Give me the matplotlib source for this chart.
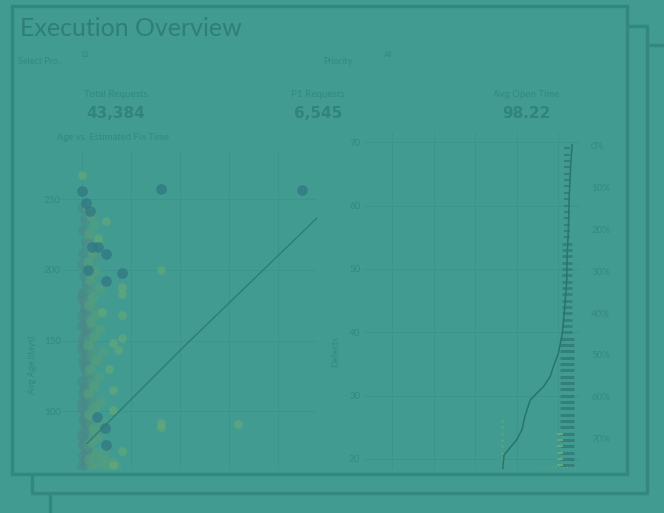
import matplotlib
matplotlib.use("Agg")
import matplotlib.pyplot as plt
from matplotlib.patches import Rectangle
import numpy as np

plt.rcParams['font.family'] = ['Lato', 'DejaVu Sans']

kpi_names = ["Total Requests", "P1 Requests", "Avg Open Time"]
kpi_values = ["43,384", "6,545", "98.22"]

# scatter: Age vs. Estimated Fix Time
gray_x = [0, 0.6, 0.2, 1.0, 0.4, 0.8, 0, 0.5, 1.1, 0.2, 0.7, 0, 0.9, 0.3, 0.6, 0, 1.0, 0.4, 0.2, 0.8,
          0, 0.5, 0.3, 0.9, 0.1, 0.6, 0, 0.7, 0.4, 0.2, 1.0, 0.5, 0, 0.3, 0.8, 0.2, 0.6, 0.1,
          0.9, 0.3, 0.7, 0.1, 0.5, 0.8, 0.2, 1.2, 0.4, 0.6, 0.0, 0.9]
gray_y = [61, 64, 68, 72, 75, 79, 83, 86, 90, 94, 98, 103, 108, 112, 117, 121, 126, 131, 136, 140,
          144, 148, 152, 156, 160, 164, 168, 173, 178, 184, 190, 196, 204, 212, 220, 228, 236, 244,
          66, 77, 92, 106, 115, 133, 146, 155, 162, 171, 181, 70]
mid_x = [1.6, 2.2, 1.3, 2.6, 1.9, 1.5, 2.4, 1.7, 2.0, 1.4, 2.8, 1.8, 2.3, 1.5, 2.1, 1.6, 2.5,
         1.3, 1.9, 2.2, 1.6, 2.7, 1.4, 2.0]
mid_y = [62, 69, 76, 84, 91, 99, 105, 111, 120, 127, 134, 139, 145, 151, 160, 166, 172, 179,
         186, 195, 203, 210, 224, 240]
green_x = [2.0, 3.5, 1.4, 2.8, 4.6, 1.8, 3.0, 2.2, 4.0, 1.5, 2.6, 3.8, 1.2, 2.4, 3.4, 1.7, 2.9, 4.2,
           1.3, 2.5, 3.6, 1.9, 3.1, 1.4, 2.3, 3.7, 1.6, 2.7, 1.2, 2.1, 3.3, 1.5, 2.4, 1.8, 1.3,
           5.2, 6.4, 4.4, 7.0]
green_y = [60, 63, 66, 70, 74, 78, 82, 87, 92, 97, 102, 107, 113, 118, 124, 130, 136, 142, 147,
           153, 158, 163, 169, 175, 181, 187, 193, 199, 206, 213, 219, 226, 232, 238, 244,
           62, 64, 67, 61]
light_x = [16.1, 16.1, 16.1, 31.8, 0.0, 4.9, 8.2, 8.2, 8.2, 8.2, 7.3, 6.3, 6.3, 6.3, 8.2, 6.3, 3.3, 5.5, 4.0]
light_y = [200, 91.6, 88.8, 91, 267.5, 235, 188, 183, 168, 152, 143, 148, 115, 101, 72, 62, 223, 130, 170]
dark_x = [16.1, 44.9, 0.0, 0.8, 1.6, 2.0, 3.3, 4.9, 8.2, 4.9, 1.2, 4.7, 4.9, 3.1]
dark_y = [257.5, 257, 256, 247.6, 242, 216, 216, 211, 198, 192, 200, 88, 76, 96]
trend_x = [1.0, 20.0, 48.0]
trend_y = [77, 143, 237]

# pareto: Defects
defect_levels = list(range(19, 70))
cum_x = [3.667, 3.70, 3.80, 4.00, 4.13, 4.20, 4.33, 4.49, 4.65, 4.81, 4.89, 5.01, 5.09, 5.13,
         5.17, 5.21, 5.22, 5.25, 5.27, 5.31, 5.34]
cum_y = [18.53, 20.63, 21.42, 23.0, 24.58, 26.68, 29.32, 30.38, 31.42, 33.0, 34.58, 36.70, 39.32,
         41.44, 44.6, 48.28, 51.96, 56.18, 61.44, 66.71, 69.6]
low_dots_x = [3.65] * 8
low_dots_y = [19, 20, 21, 22, 23, 24, 25, 26]
pct_ticks = [0, 10, 20, 30, 40, 50, 60, 70]

# ---- style ----
W, H = 664, 513
bg = '#419b91'
edge = '#33877e'
txt = '#2f8077'
faint = '#35897f'
grid_c = '#3b958b'


def box(l, t, r, b):
    return [l / W, 1 - b / H, (r - l) / W, (b - t) / H]


def put(x, y, s, **kw):
    fig.text(x / W, 1 - y / H, s, **kw)


fig = plt.figure(figsize=(W / 100, H / 100), dpi=100, facecolor=bg)

# stacked panels
for z, (l, t, r, b) in enumerate([(50, 45, 720, 560), (32, 26, 647, 493), (12, 6, 627, 474)]):
    fig.patches.append(Rectangle((l / W, 1 - b / H), (r - l) / W, (b - t) / H,
                                 transform=fig.transFigure, facecolor=bg,
                                 edgecolor=edge, lw=2.4, zorder=-3 + z))

put(20, 28, "Execution Overview", fontsize=18, color='#2f7f76', va='center')
put(18, 62, "Select Pro..", fontsize=6.5, color=faint, va='center')
put(80, 55, "12", fontsize=5.5, color=faint, va='center')
put(323, 62, "Priority", fontsize=6.5, color=faint, va='center')
put(384, 55, "All", fontsize=5.5, color=faint, va='center')
for cx, name, val in zip([116, 318, 526], kpi_names, kpi_values):
    put(cx, 95, name, fontsize=7, color=faint, ha='center', va='center')
    put(cx, 113, val, fontsize=11, color='#32837a', ha='center', va='center',
        fontweight='semibold', family='DejaVu Sans')

# left chart
ax = fig.add_axes(box(62, 150, 317, 469))
ax.set_facecolor('none')
ax.set_xlim(-4.08, 47.96)
ax.set_ylim(59, 285)
ax.scatter(gray_x, gray_y, s=60, color='#4a8a89', alpha=0.7, lw=0)
ax.scatter(mid_x, mid_y, s=60, color='#4f9582', alpha=0.6, lw=0)
ax.scatter(green_x, green_y, s=55, color='#56a07c', alpha=0.6, lw=0)
ax.scatter(light_x, light_y, s=40, color='#62a87a', alpha=0.7, lw=0)
ax.scatter(dark_x, dark_y, s=60, color='#327a84', alpha=0.8, lw=0)
ax.plot(trend_x, trend_y, color='#2d7a73', lw=0.9)
ax.set_xticks([0, 10, 20, 30, 40])
ax.set_yticks([100, 150, 200, 250])
ax.grid(True, color=grid_c, lw=0.7)
ax.set_axisbelow(True)
ax.tick_params(length=0, labelsize=7, labelcolor=faint, pad=1)
ax.tick_params(axis='x', labelbottom=False)
for sp in ax.spines.values():
    sp.set_visible(False)
put(57, 137, "Age vs. Estimated Fix Time", fontsize=6.8, color=faint, va='center')
put(32, 365, "Avg Age (days)", fontsize=6.5, color=faint, va='center', ha='center', rotation=90)

# right chart
ax2 = fig.add_axes(box(363, 132, 580, 469))
ax2.set_facecolor('none')
ax2.set_xlim(0.30, 5.53)
ax2.set_ylim(18.42, 71.6)
lv = np.array(defect_levels)
ax2.plot([5.21] * len(lv[lv >= 55]), lv[lv >= 55], ls='none', marker='_', ms=4,
         mew=1.5, color='#33807a')
ax2.plot([5.21] * len(lv[(lv >= 40) & (lv < 55)]), lv[(lv >= 40) & (lv < 55)], ls='none',
         marker='_', ms=7, mew=1.9, color='#33807a')
ax2.plot([5.21] * len(lv[lv < 40]), lv[lv < 40], ls='none', marker='_', ms=10, mew=2.2,
         color='#33807a')
ax2.plot([5.04] * len(lv[lv < 25]), lv[lv < 25], ls='none', marker='_', ms=4, mew=1.5,
         color='#62a87a')
ax2.plot(low_dots_x, low_dots_y, ls='none', marker='o', ms=1.8, mew=0, color='#5ea67b')
ax2.plot([4.40, 5.46], [18.7, 18.7], ls=':', lw=1.0, color='#58a383')
ax2.plot(cum_x, cum_y, color='#29746c', lw=1.1)
ax2.set_xticks([1, 2, 3, 4, 5])
ax2.set_yticks([20, 30, 40, 50, 60, 70])
ax2.grid(True, color=grid_c, lw=0.7)
ax2.set_axisbelow(True)
ax2.tick_params(length=0, labelsize=7, labelcolor=faint, pad=2)
ax2.tick_params(axis='x', labelbottom=False)
for sp in ax2.spines.values():
    sp.set_visible(False)

ax3 = ax2.twinx()
ax3.set_ylim((469 - 146) / 4.18, (132 - 146) / 4.18)
ax3.set_yticks(pct_ticks)
ax3.set_yticklabels([f"{p}%" for p in pct_ticks])
ax3.tick_params(length=0, labelsize=7, labelcolor=faint, pad=8)
for sp in ax3.spines.values():
    sp.set_visible(False)
put(336, 352, "Defects", fontsize=6.5, color=faint, va='center', ha='center', rotation=90)

fig.savefig("out.png", dpi=100, facecolor=bg)
